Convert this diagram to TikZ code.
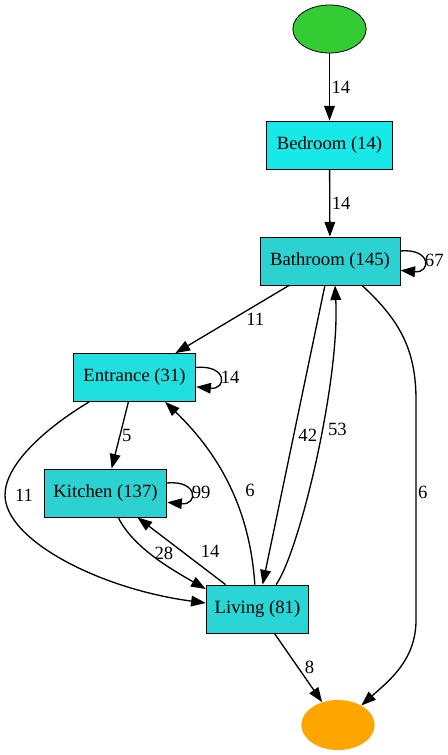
\documentclass[tikz,border=0pt]{standalone}
\usepackage{fontspec}
\setmainfont{Liberation Serif}
\newfontfamily\graphfont{Liberation Serif}
\usetikzlibrary{arrows.meta}
\usetikzlibrary{shapes.geometric}

\definecolor{startgreen}{HTML}{33CC33}
\definecolor{endorange}{HTML}{FFA500}
\definecolor{roomA}{HTML}{17E8E8}
\definecolor{roomB}{HTML}{1FDFDF}
\definecolor{roomC}{HTML}{2CD2D2}
\definecolor{roomD}{HTML}{29D5D5}

\begin{document}
\begin{tikzpicture}[
				x=0.75pt,
				y=-0.75pt,
				font=\graphfont\fontsize{14}{16}\selectfont,
				room/.style={rectangle, draw=black, line width=0.6pt, minimum height=36pt, inner sep=0pt},
				terminal/.style={ellipse, minimum width=55pt, minimum height=36pt, inner sep=0pt},
				flow/.style={-{Triangle[length=11pt,width=8pt]}, line width=1pt},
				weight/.style={anchor=west, inner sep=1pt}
				]
				\useasboundingbox (0,0) rectangle (448,755);
				
				% Start and end
				\node[terminal, draw=black, line width=0.6pt, fill=startgreen] (start) at (329.5,29) {};
				\node[terminal, fill=endorange, minimum height=37.5pt] (end) at (338,725) {};
				
				% Rooms
				\node[room, fill=roomA, minimum width=95pt] (bed) at (329.5,145) {Bedroom (14)};
				\node[room, fill=roomC, minimum width=105pt] (bath) at (330,261) {Bathroom (145)};
				\node[room, fill=roomB, minimum width=92pt] (ent) at (134.5,377.5) {Entrance (31)};
				\node[room, fill=roomC, minimum width=92pt] (kit) at (105.5,493) {Kitchen (137)};
				\node[room, fill=roomD, minimum width=77pt] (liv) at (257.5,609) {Living (81)};
				
				% Straight transitions
				\draw[flow] (start) -- node[weight] {14} (bed);
				\draw[flow] (bed) -- node[weight] {14} (bath);
				\draw[flow] (bath) -- node[weight, xshift=9pt] {11} (ent);
				\draw[flow] (ent) -- node[weight] {5} (kit);
				\draw[flow] (bath) -- node[weight, xshift=2pt] {42} (liv);
				\draw[flow] (liv) -- node[weight, xshift=13pt] {14} (kit);
				\draw[flow] (liv) -- node[weight, xshift=3.5pt] {8} (end);
				
				% Curved transitions
				\draw[flow] ([xshift=-34pt]ent.south) .. controls +(-45,27) and +(0,-30) .. (5,495)
					node[anchor=west, xshift=7pt, inner sep=0pt] {11}
					.. controls +(0,45) and +(-106,-14) .. ([yshift=4.5pt]liv.west);
				\draw[flow] ([xshift=9.5pt]kit.south) .. controls +(15,30) and +(-35,-20) .. ([yshift=15pt]liv.west)
					node[weight, pos=0.45, xshift=2pt] {28};
				\draw[flow] ([xshift=-2pt]liv.north) .. controls +(-5,-75) and +(55,53) .. ([xshift=23pt]ent.south)
					node[weight, pos=0.47, xshift=9pt] {6};
				\draw[flow] ([xshift=14pt]liv.north) .. controls +(24,-35) and +(5,95) .. ([xshift=3.75pt]bath.south)
					node[weight, pos=0.58, xshift=3pt] {53};
				\draw[flow] ([xshift=24pt]bath.south) .. controls +(38,35) and +(0,-50) .. (416,400)
					-- (416,620) node[weight, pos=0.42] {6}
					.. controls +(0,40) and +(28,-25) .. (end.40);
				
				% Self loops
				\draw[flow] ([yshift=7.5pt]bath.east) .. controls +(31,-3) and +(31,3) .. ([yshift=-7pt]bath.east)
					node[weight, pos=0.5, inner sep=0.5pt] {67};
				\draw[flow] ([yshift=7.5pt]ent.east) .. controls +(31,-3) and +(31,3) .. ([yshift=-7pt]ent.east)
					node[weight, pos=0.5, inner sep=0.5pt] {14};
				\draw[flow] ([yshift=7.5pt]kit.east) .. controls +(31,-3) and +(31,3) .. ([yshift=-7pt]kit.east)
					node[weight, pos=0.5, inner sep=0.5pt] {99};
			\end{tikzpicture}
\end{document}
